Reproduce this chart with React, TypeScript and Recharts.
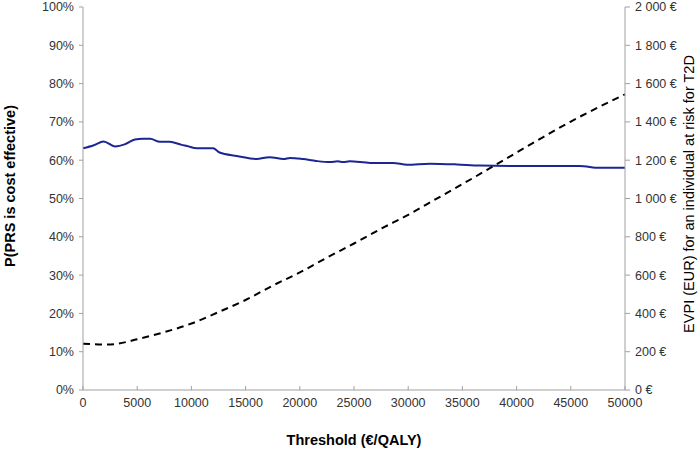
import React from "react";
import { LineChart, Line, XAxis, YAxis } from "recharts";

// P(PRS is cost effective) curve
const pThresholds = [
    0, 1000, 1900, 2950, 3900, 4800, 5500, 6200, 7100, 8000, 9100, 9600, 10500, 12000,
    12600, 14200, 16000, 17200, 18500, 19100, 20300, 21500, 22800, 23500, 24000, 24600,
    26500, 28600, 29900, 32000, 34500, 36600, 39700, 45800, 47700, 50000,
];
const pValues = [
    0.631, 0.639, 0.649, 0.636, 0.642, 0.654, 0.656, 0.656, 0.648, 0.648, 0.64, 0.637, 0.631, 0.631,
    0.62, 0.611, 0.603, 0.608, 0.603, 0.606, 0.603, 0.598, 0.595, 0.597, 0.595, 0.597,
    0.593, 0.593, 0.588, 0.591, 0.589, 0.586, 0.585, 0.585, 0.58, 0.58,
];

// EVPI (EUR) curve, dashed, right axis
const evpiThresholds = [
    0, 2000, 3000, 5000, 7500, 10000, 12500, 15000, 17500, 20000, 22500, 25000, 27500,
    30000, 32500, 35000, 37500, 40000, 42500, 45000, 47500, 50000,
];
const evpiValues = [
    242, 237, 240, 265, 302, 347, 407, 470, 545, 614, 691, 765, 842,
    915, 995, 1075, 1157, 1240, 1322, 1402, 1475, 1544,
];

const xTicks = [0, 5000, 10000, 15000, 20000, 25000, 30000, 35000, 40000, 45000, 50000];
const pTicks = [0, 0.1, 0.2, 0.3, 0.4, 0.5, 0.6, 0.7, 0.8, 0.9, 1];
const evpiTicks = [0, 200, 400, 600, 800, 1000, 1200, 1400, 1600, 1800, 2000];

const pData = pThresholds.map((x, i) => ({ x, p: pValues[i] }));
const evpiData = evpiThresholds.map((x, i) => ({ x, evpi: evpiValues[i] }));

const FONT = "Arial, 'Liberation Sans', sans-serif";
const AXIS = "#a0a0a0";
const TICK = { fill: "#333", fontSize: 12.5, fontFamily: FONT };

const pctFormatter = (v: number) => `${Math.round(v * 100)}%`;
const euroFormatter = (v: number) => {
    if (v >= 1000) {
        return `${Math.floor(v / 1000)} ${String(v % 1000).padStart(3, "0")} €`;
    }
    return `${v} €`;
};

// rotated axis title at a fixed spot
const vTitle = (text: string, cx: number, cy: number, size: number, bold: boolean) => () => (
    <text
        x={cx}
        y={cy}
        transform={`rotate(-90 ${cx} ${cy})`}
        textAnchor="middle"
        dominantBaseline="central"
        fill="#000"
        fontSize={size}
        fontWeight={bold ? "bold" : "normal"}
        fontFamily={FONT}
    >
        {text}
    </text>
);

const xTitle = () => (
    <text x={354} y={440} textAnchor="middle" dominantBaseline="central" fill="#000" fontSize={14.5} fontWeight="bold" fontFamily={FONT}>
        Threshold (€/QALY)
    </text>
);

export default function App() {
    return (
        <div style={{ width: 699, height: 451, background: "#fff" }}>
            <style>{`body{margin:0}`}</style>
            <LineChart width={699} height={451} margin={{ top: 7, right: 0, bottom: 0, left: 0 }}>
                <XAxis
                    dataKey="x"
                    type="number"
                    domain={[0, 50000]}
                    ticks={xTicks}
                    interval={0}
                    height={61}
                    stroke={AXIS}
                    tick={TICK}
                    tickSize={-4}
                    tickMargin={12}
                    allowDuplicatedCategory={false}
                    label={xTitle}
                />
                <YAxis
                    yAxisId="p"
                    domain={[0, 1]}
                    ticks={pTicks}
                    interval={0}
                    width={83}
                    stroke={AXIS}
                    tick={TICK}
                    tickSize={4}
                    tickMargin={5}
                    tickFormatter={pctFormatter}
                    label={vTitle("P(PRS is cost effective)", 10, 186, 14.5, true)}
                />
                <YAxis
                    yAxisId="evpi"
                    orientation="right"
                    domain={[0, 2000]}
                    ticks={evpiTicks}
                    interval={0}
                    width={74}
                    stroke={AXIS}
                    tick={TICK}
                    tickSize={5}
                    tickMargin={5}
                    tickFormatter={euroFormatter}
                    label={vTitle("EVPI (EUR) for an individual at risk for T2D", 689, 194, 14.5, false)}
                />
                <Line
                    yAxisId="p"
                    data={pData}
                    dataKey="p"
                    type="monotone"
                    stroke="#1c2594"
                    strokeWidth={2}
                    dot={false}
                    isAnimationActive={false}
                />
                <Line
                    yAxisId="evpi"
                    data={evpiData}
                    dataKey="evpi"
                    type="monotone"
                    stroke="#000"
                    strokeWidth={2}
                    strokeDasharray="7 5"
                    dot={false}
                    isAnimationActive={false}
                />
            </LineChart>
        </div>
    );
}
